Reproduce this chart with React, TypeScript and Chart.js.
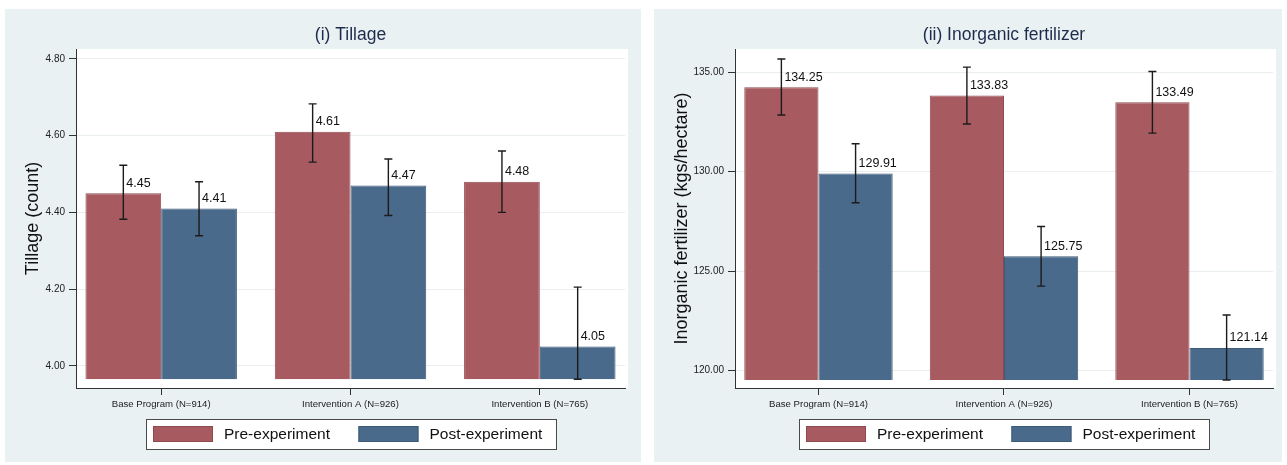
import React, { useEffect, useRef } from 'react';
import { Chart, registerables } from 'chart.js';

Chart.register(...registerables);

const FONT = '"Liberation Sans", Arial, Helvetica, sans-serif';

// ---- shared ----
const categories = ['Base Program (N=914)', 'Intervention A (N=926)', 'Intervention B (N=765)'];
const seriesLabels = ['Pre-experiment', 'Post-experiment'];
const seriesColors = ['#a75b60', '#4a6a8b'];
const seriesBorders = ['#8f4a50', '#3e5a77'];

// ---- panel (i) Tillage ----
const tillageTitle = '(i) Tillage';
const tillageAxisTitle = 'Tillage (count)';
const tillagePre = [4.45, 4.61, 4.48];
const tillagePost = [4.41, 4.47, 4.05];
const tillagePreLow = [4.382, 4.531, 4.4];
const tillagePreHigh = [4.523, 4.683, 4.56];
const tillagePostLow = [4.339, 4.392, 3.895];
const tillagePostHigh = [4.48, 4.539, 4.205];
const tillageTicks = [4.0, 4.2, 4.4, 4.6, 4.8];
const tillageAxisMin = 3.942;
const tillageAxisMax = 4.826;
const tillageBarBase = 3.965;

// ---- panel (ii) Inorganic fertilizer ----
const fertTitle = '(ii) Inorganic fertilizer';
const fertAxisTitle = 'Inorganic fertilizer (kgs/hectare)';
const fertPre = [134.25, 133.83, 133.49];
const fertPost = [129.91, 125.75, 121.14];
const fertPreLow = [132.85, 132.4, 131.94];
const fertPreHigh = [135.67, 135.26, 135.04];
const fertPostLow = [128.44, 124.25, 119.48];
const fertPostHigh = [131.41, 127.25, 122.8];
const fertTicks = [120, 125, 130, 135];
const fertAxisMin = 119.13;
const fertAxisMax = 136.17;
const fertBarBase = 119.53;

const xMin = -0.45;
const xMax = 2.45;

const backgroundPlugin = {
  id: 'panelBackground',
  beforeDraw(chart: any) {
    const { ctx, chartArea, width, height } = chart;
    ctx.save();
    ctx.fillStyle = '#eaf1f3';
    ctx.fillRect(0, 0, width, height);
    ctx.fillStyle = '#ffffff';
    ctx.fillRect(chartArea.left, chartArea.top, chartArea.right - chartArea.left + 3, chartArea.bottom - chartArea.top);
    ctx.restore();
  },
};

const errorBarPlugin = {
  id: 'errorBarsAndLabels',
  afterDatasetsDraw(chart: any) {
    const { ctx } = chart;
    const yScale = chart.scales.y;
    ctx.save();
    chart.data.datasets.forEach((ds: any, di: number) => {
      const meta = chart.getDatasetMeta(di);
      meta.data.forEach((bar: any, j: number) => {
        const x = bar.x;
        const hi = yScale.getPixelForValue(ds.errHigh[j]);
        const lo = yScale.getPixelForValue(Math.max(ds.errLow[j], ds.base));
        ctx.strokeStyle = '#1b1b1b';
        ctx.lineWidth = 1.4;
        ctx.beginPath();
        ctx.moveTo(x, hi);
        ctx.lineTo(x, lo);
        ctx.moveTo(x - 4, hi);
        ctx.lineTo(x + 4, hi);
        ctx.moveTo(x - 4, lo);
        ctx.lineTo(x + 4, lo);
        ctx.stroke();
        ctx.fillStyle = '#111111';
        ctx.font = `12.5px ${FONT}`;
        ctx.textAlign = 'left';
        ctx.textBaseline = 'middle';
        ctx.fillText(Number(ds.data[j].y).toFixed(2), x + 3, bar.y - 10);
      });
    });
    ctx.restore();
  },
};

const boxLegendPlugin = {
  id: 'boxLegend',
  afterDraw(chart: any) {
    const { ctx, chartArea } = chart;
    const fontSize = 15.5;
    const sw = 60;
    const sh = 16;
    const padL = 7;
    const gapText = 11;
    const gapItems = 28.5;
    const padR = 13.5;
    const h = 30;
    ctx.save();
    ctx.font = `${fontSize}px ${FONT}`;
    const items = chart.data.datasets.map((ds: any) => ({
      label: ds.label,
      color: ds.backgroundColor,
      border: ds.borderColor,
      w: ctx.measureText(ds.label).width,
    }));
    let total = padL + padR;
    items.forEach((it: any, i: number) => {
      total += sw + gapText + it.w + (i > 0 ? gapItems : 0);
    });
    total = Math.round(total);
    const cx = (chartArea.left + chartArea.right) / 2;
    const left = Math.round(cx - total / 2);
    const top = Math.round(chartArea.bottom + 31);
    ctx.fillStyle = '#ffffff';
    ctx.fillRect(left, top, total, h);
    ctx.strokeStyle = '#4a4a4a';
    ctx.lineWidth = 1;
    ctx.strokeRect(left + 0.5, top + 0.5, total, h);
    let x = left + padL;
    const midY = top + h / 2;
    items.forEach((it: any, i: number) => {
      if (i > 0) x += gapItems;
      ctx.fillStyle = it.color;
      ctx.fillRect(x, midY - sh / 2, sw, sh);
      ctx.strokeStyle = it.border;
      ctx.strokeRect(x + 0.5, midY - sh / 2 + 0.5, sw - 1, sh - 1);
      x += sw + gapText;
      ctx.fillStyle = '#111111';
      ctx.textAlign = 'left';
      ctx.textBaseline = 'middle';
      ctx.fillText(it.label, x, midY + 0.5);
      x += it.w;
    });
    ctx.restore();
  },
};

type PanelSpec = {
  title: string;
  axisTitle: string;
  pre: number[];
  post: number[];
  preLow: number[];
  preHigh: number[];
  postLow: number[];
  postHigh: number[];
  ticks: number[];
  min: number;
  max: number;
  base: number;
  left: number;
  top: number;
  width: number;
  height: number;
  plotLeft: number;
  plotRight: number;
};

function makeConfig(p: PanelSpec): any {
  const series = [
    { values: p.pre, low: p.preLow, high: p.preHigh },
    { values: p.post, low: p.postLow, high: p.postHigh },
  ];
  return {
    type: 'bar',
    data: {
      datasets: series.map((s, i) => ({
        label: seriesLabels[i],
        data: s.values.map((v, j) => ({ x: j, y: v })),
        backgroundColor: seriesColors[i],
        borderColor: seriesBorders[i],
        borderWidth: 1,
        base: p.base,
        errLow: s.low,
        errHigh: s.high,
        categoryPercentage: 0.8,
        barPercentage: 1.0,
      })),
    },
    options: {
      responsive: false,
      animation: false,
      events: [],
      layout: { padding: { left: 0, right: p.width - p.plotRight, top: 0, bottom: 44 } },
      plugins: {
        legend: { display: false },
        tooltip: { enabled: false },
        title: {
          display: true,
          text: p.title,
          fullSize: false,
          color: '#1d2c4c',
          font: { family: FONT, size: 17.5, weight: 'normal' },
          padding: { top: 15.5, bottom: 3.5 },
        },
      },
      scales: {
        x: {
          type: 'linear',
          min: xMin,
          max: xMax,
          offset: false,
          bounds: 'ticks',
          afterBuildTicks: (scale: any) => {
            scale.ticks = categories.map((_, i) => ({ value: i }));
          },
          afterFit: (scale: any) => {
            scale.height = 30;
          },
          ticks: {
            callback: (v: any) => categories[Math.round(Number(v))],
            font: { family: FONT, size: 9.6 },
            color: '#222222',
            padding: 4,
            maxRotation: 0,
            autoSkip: false,
            includeBounds: false,
          },
          grid: {
            offset: false,
            drawOnChartArea: false,
            drawTicks: true,
            tickLength: 7,
            tickColor: '#333333',
            tickWidth: 1,
          },
          border: { display: true, color: '#333333', width: 1 },
        },
        y: {
          type: 'linear',
          min: p.min,
          max: p.max,
          afterBuildTicks: (scale: any) => {
            scale.ticks = p.ticks.map((v) => ({ value: v }));
          },
          afterFit: (scale: any) => {
            scale.width = p.plotLeft;
          },
          ticks: {
            callback: (v: any) => Number(v).toFixed(2),
            font: { family: FONT, size: 10 },
            color: '#222222',
            padding: 4,
          },
          grid: {
            color: '#e9eef0',
            lineWidth: 1,
            drawTicks: true,
            tickLength: 7,
            tickColor: '#333333',
            tickWidth: 1,
          },
          border: { display: true, color: '#333333', width: 1 },
          title: {
            display: true,
            text: p.axisTitle,
            color: '#111111',
            font: { family: FONT, size: 18, weight: 'normal' },
            padding: { top: 17.7, bottom: 0 },
          },
        },
      },
    },
    plugins: [backgroundPlugin, errorBarPlugin, boxLegendPlugin],
  };
}

const panels: PanelSpec[] = [
  {
    title: tillageTitle,
    axisTitle: tillageAxisTitle,
    pre: tillagePre,
    post: tillagePost,
    preLow: tillagePreLow,
    preHigh: tillagePreHigh,
    postLow: tillagePostLow,
    postHigh: tillagePostHigh,
    ticks: tillageTicks,
    min: tillageAxisMin,
    max: tillageAxisMax,
    base: tillageBarBase,
    left: 5,
    top: 9,
    width: 636,
    height: 453,
    plotLeft: 71,
    plotRight: 620,
  },
  {
    title: fertTitle,
    axisTitle: fertAxisTitle,
    pre: fertPre,
    post: fertPost,
    preLow: fertPreLow,
    preHigh: fertPreHigh,
    postLow: fertPostLow,
    postHigh: fertPostHigh,
    ticks: fertTicks,
    min: fertAxisMin,
    max: fertAxisMax,
    base: fertBarBase,
    left: 654,
    top: 9,
    width: 628,
    height: 453,
    plotLeft: 81,
    plotRight: 619,
  },
];

function Panel({ spec }: { spec: PanelSpec }) {
  const ref = useRef<HTMLCanvasElement | null>(null);
  useEffect(() => {
    if (!ref.current) return;
    const chart = new Chart(ref.current, makeConfig(spec));
    return () => chart.destroy();
  }, [spec]);
  return (
    <canvas
      ref={ref}
      width={spec.width}
      height={spec.height}
      style={{ position: 'absolute', left: spec.left, top: spec.top, width: spec.width, height: spec.height }}
    />
  );
}

export default function App() {
  return (
    <div style={{ position: 'absolute', left: 0, top: 0, width: 1287, height: 465, background: '#ffffff', overflow: 'hidden' }}>
      {panels.map((p, i) => (
        <Panel key={i} spec={p} />
      ))}
    </div>
  );
}
